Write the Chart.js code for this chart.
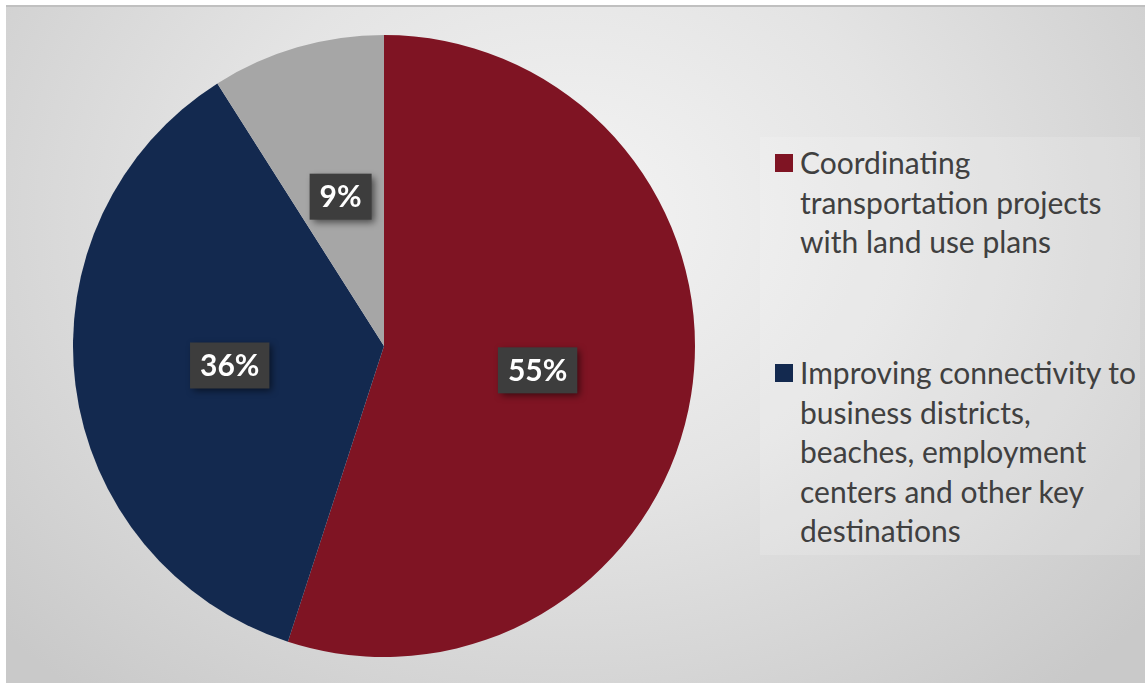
<!DOCTYPE html>
<html>
<head>
<meta charset="utf-8">
<script src="https://cdn.jsdelivr.net/npm/chart.js@4/dist/chart.umd.min.js"></script>
<style>
  html, body { margin: 0; padding: 0; background: #fff; }
  body { width: 1145px; height: 683px; position: relative; overflow: hidden; font-family: Lato, "Open Sans", sans-serif; }
  #frame {
    position: absolute; left: 6px; top: 5px; right: 0; bottom: 0;
    border-top: 2px solid #c0c0c0;
    background: radial-gradient(ellipse 760px 620px at 560px 210px, #f4f4f4 0%, #e4e4e4 45%, #c9c9c9 100%);
  }
  #chartBox { position: absolute; left: 73px; top: 35px; width: 622px; height: 622px; }
  #legend {
    position: absolute; left: 760px; top: 137px; width: 380px; height: 418px;
    background: rgba(255,255,255,0.15);
  }
  .item { position: absolute; left: 40px; width: 340px; font-size: 30px; line-height: 39.6px; color: #404040; white-space: nowrap; }
  .swatch { position: absolute; left: -25px; top: 11px; width: 18px; height: 18px; }
</style>
</head>
<body>
<div id="frame"></div>
<div id="chartBox"><canvas id="pieChart"></canvas></div>
<div id="legend"></div>
<script>
// Survey priorities (each label split into its display lines)
const categories = [
  ['Coordinating', 'transportation projects', 'with land use plans'],
  ['Improving connectivity to', 'business districts,', 'beaches, employment', 'centers and other key', 'destinations'],
  ['Other']
];
const shares = [55, 36, 9];
const sliceColors = ['#7f1423', '#13294f', '#a6a6a6'];
const legendTops = [6, 216];

// Dark value boxes in the middle of each slice
const valueBoxes = {
  id: 'valueBoxes',
  afterDatasetsDraw(chart) {
    const ctx = chart.ctx;
    const meta = chart.getDatasetMeta(0);
    ctx.save();
    ctx.font = 'bold 30px Lato, sans-serif';
    ctx.textAlign = 'center';
    ctx.textBaseline = 'middle';
    meta.data.forEach((arc, i) => {
      const p = arc.getCenterPoint();
      const text = shares[i] + '%';
      const w = ctx.measureText(text).width + 20;
      const h = 46;
      ctx.save();
      ctx.shadowColor = 'rgba(0,0,0,0.55)';
      ctx.shadowBlur = 7;
      ctx.shadowOffsetX = 3;
      ctx.shadowOffsetY = 3;
      ctx.fillStyle = '#3d3d3d';
      ctx.fillRect(p.x - w / 2, p.y - h / 2, w, h);
      ctx.restore();
      ctx.fillStyle = '#ffffff';
      ctx.fillText(text, p.x, p.y + 1);
    });
    ctx.restore();
  }
};

document.addEventListener('DOMContentLoaded', function() {
  const ctx = document.getElementById('pieChart').getContext('2d');
  new Chart(ctx, {
    type: 'pie',
    data: {
      labels: categories,
      datasets: [{
        data: shares,
        backgroundColor: sliceColors,
        borderWidth: 0
      }]
    },
    options: {
      responsive: true,
      maintainAspectRatio: false,
      animation: false,
      plugins: {
        legend: { display: false },
        tooltip: { enabled: false }
      }
    },
    plugins: [valueBoxes]
  });

  // Legend lists the two main priorities
  const legend = document.getElementById('legend');
  categories.slice(0, 2).forEach((lines, i) => {
    const item = document.createElement('div');
    item.className = 'item';
    item.style.top = legendTops[i] + 'px';
    item.innerHTML = '<span class="swatch" style="background:' + sliceColors[i] + '"></span>' + lines.join('<br>');
    legend.appendChild(item);
  });
});
</script>
</body>
</html>
